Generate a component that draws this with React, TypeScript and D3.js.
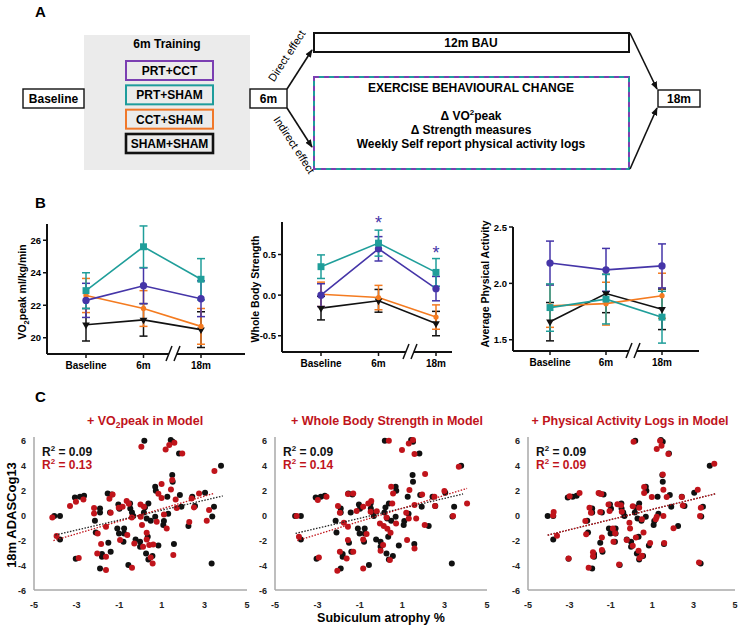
import React from 'react';
import * as d3 from 'd3';

const FONT = "'Liberation Sans', Arial, Helvetica, sans-serif";

// ---------------- Panel A (study design) ----------------
const trainingGroups = ['PRT+CCT', 'PRT+SHAM', 'CCT+SHAM', 'SHAM+SHAM'];
const trainingColors = ['#7b3fb2', '#1e9c9c', '#f0782a', '#111111'];

// ---------------- Panel B (group means ± SEM) ----------------
const timepoints = ['Baseline', '6m', '18m'];
const seriesNames = ['SHAM+SHAM', 'CCT+SHAM', 'PRT+CCT', 'PRT+SHAM'];
const seriesColors = ['#111111', '#f47b20', '#4535a8', '#1f9e9a'];

const vo2ShamSham = [20.8, 21.1, 20.5];
const vo2ShamShamErr = [1.0, 1.0, 1.1];
const vo2CctSham = [22.6, 21.8, 20.7];
const vo2CctShamErr = [1.05, 1.1, 1.1];
const vo2PrtCct = [22.3, 23.2, 22.4];
const vo2PrtCctErr = [1.05, 1.1, 1.1];
const vo2PrtSham = [22.9, 25.6, 23.6];
const vo2PrtShamErr = [1.1, 1.28, 1.27];

const strShamSham = [-0.16, -0.07, -0.35];
const strShamShamErr = [0.145, 0.14, 0.15];
const strCctSham = [0.01, -0.03, -0.27];
const strCctShamErr = [0.15, 0.15, 0.15];
const strPrtCct = [0.0, 0.57, 0.08];
const strPrtCctErr = [0.14, 0.15, 0.15];
const strPrtSham = [0.35, 0.64, 0.28];
const strPrtShamErr = [0.145, 0.16, 0.17];

const paShamSham = [1.66, 1.91, 1.77];
const paShamShamErr = [0.17, 0.17, 0.18];
const paCctSham = [1.80, 1.82, 1.89];
const paCctShamErr = [0.19, 0.19, 0.2];
const paPrtCct = [2.18, 2.12, 2.155];
const paPrtCctErr = [0.195, 0.19, 0.195];
const paPrtSham = [1.785, 1.86, 1.70];
const paPrtShamErr = [0.21, 0.22, 0.23];

const vo2Ticks = [20, 22, 24, 26];
const strTicks = [-0.5, 0.0, 0.5];
const paTicks = [1.5, 2.0, 2.5];

// ---------------- Panel C (scatter) ----------------
const scatterXTicks = [-5, -3, -1, 1, 3, 5];
const scatterYTicks = [-6, -4, -2, 0, 2, 4, 6];

// base model (black) points: [subiculum atrophy %, 18m ADASCog13]
const basePoints = [
  [-4.05, -0.08], [-3.78, -0.08], [-3.78, -1.95], [-3.08, 1.41], [-2.84, 1.47], [-2.65, 1.55],
  [-3.04, -3.49], [-2.14, -0.45], [-1.9, 0.53], [-1.9, 0.21], [-1.9, -4.27], [-1.81, -3.12],
  [-1.81, -3.33], [-1.54, 1.73], [-1.35, 1.65], [-1.51, -2.21], [-1.4, -2.93], [-1.04, 0.85],
  [-0.99, 0.51], [-1.43, 0.21], [-1.09, -1.07], [-1.01, -1.47], [-0.77, -1.07], [-0.77, -1.47],
  [-0.8, -2.13], [-0.57, -4.0], [-0.49, 0.93], [-0.48, 0.53], [-0.4, 0.21], [-0.34, -0.08],
  [-0.23, -1.95], [-0.02, -2.13], [-0.02, -2.53], [0.18, 5.95], [0.21, 0.61], [0.16, 0.21],
  [0.37, 0.93], [0.29, -0.27], [0.34, -1.73], [0.26, -3.07], [0.37, -3.55], [0.56, -3.28],
  [0.48, -0.45], [0.69, -0.13], [0.69, 2.27], [0.72, 1.95], [0.84, -2.43], [1.07, -0.8],
  [1.1, -0.48], [1.26, 1.47], [1.42, 6.0], [1.51, 5.87], [1.49, 3.2], [1.51, 2.67],
  [1.57, -2.32], [1.81, 4.93], [1.85, 1.6], [1.92, 0.67], [2.25, -0.88], [2.43, 1.47],
  [2.56, 0.72], [3.03, 1.79], [3.34, -3.87], [3.37, -0.11], [3.45, 0.67], [3.78, 3.95],
  [1.3, 0.1], [-2.1, -1.4],
];

// + VO2peak model (red)
const vo2Points = [
  [-4.14, -0.19], [-3.94, -1.68], [-3.31, 0.72], [-3.03, 1.07], [-2.9, -3.44], [-2.68, 1.25],
  [-2.18, 0.56], [-2.18, 0.13], [-2.01, -1.47], [-1.85, -2.32], [-2.03, -3.07], [-1.62, -3.33],
  [-1.62, -4.4], [-1.46, 1.31], [-1.31, 1.65], [-1.4, 0.19], [-1.62, -0.93], [-1.02, 0.59],
  [-0.84, 0.67], [-0.65, 1.12], [-0.96, -2.0], [-0.62, -1.6], [-0.41, -0.19], [-0.4, -4.21],
  [-0.29, -2.27], [0.0, 0.85], [0.01, -0.13], [0.07, -0.8], [0.12, -2.53], [0.04, 5.47],
  [0.16, 0.67], [0.29, -1.41], [0.29, -1.95], [0.41, -2.4], [0.48, -3.39], [0.57, -3.87],
  [0.6, -2.35], [0.76, -0.53], [0.84, 1.71], [0.99, 2.48], [0.99, 1.36], [1.1, 0.05],
  [1.18, 5.25], [1.23, -1.07], [1.35, 5.6], [1.43, 2.05], [1.49, 2.8], [1.59, 5.79],
  [1.65, 1.25], [1.7, 0.56], [1.54, -3.2], [1.96, 4.93], [2.29, -0.56], [2.4, 1.33],
  [2.51, 0.61], [2.75, 1.73], [3.11, -0.45], [3.22, 0.4], [3.47, 3.52], [-0.55, 0.9],
];

// + Whole body strength model (red)
const strPoints = [
  [-3.98, -0.08], [-3.87, -1.73], [-2.93, -3.39], [-2.98, 1.2], [-2.57, 1.47], [-2.03, 0.72],
  [-1.94, 0.19], [-1.94, -2.93], [-2.06, -4.45], [-1.62, -3.47], [-1.75, -0.61], [-1.56, 1.68],
  [-1.31, 1.73], [-1.56, -0.93], [-1.56, -2.0], [-1.31, -2.93], [-1.15, 0.32], [-0.84, 0.67],
  [-0.6, 0.93], [-0.46, 1.12], [-0.68, -1.52], [-0.84, -1.95], [-0.84, -4.27], [-0.49, 0.27],
  [-0.05, -0.67], [-0.02, -2.85], [0.13, -0.88], [0.1, -2.4], [0.26, -0.19], [0.37, 5.95],
  [0.42, -3.6], [0.45, -1.41], [0.53, 0.93], [0.48, 2.27], [0.57, 1.73], [0.71, -0.67],
  [1.19, 0.19], [1.23, -2.0], [1.31, -0.27], [0.99, 5.2], [1.31, 5.73], [1.34, 2.0],
  [1.51, 6.0], [1.58, 4.88], [1.58, 0.8], [1.58, -2.67], [1.66, -0.27], [1.94, 1.65],
  [2.08, 3.28], [2.06, -0.8], [2.52, 1.47], [2.55, 0.72], [2.99, 1.92], [3.4, -0.08],
  [3.67, 3.87], [4.06, 0.93], [0.3, -1.1], [-0.2, 0.3],
];

// + Physical activity logs model (red)
const paPoints = [
  [-3.79, -0.03], [-3.76, 0.24], [-3.6, -1.66], [-3.04, -3.48], [-2.99, 1.5], [-2.51, 1.77],
  [-2.23, -0.47], [-2.19, -1.53], [-2.07, -4.22], [-2.03, 0.58], [-1.96, 0.18], [-1.86, -3.3],
  [-1.86, -2.98], [-1.59, 1.77], [-1.46, 1.69], [-1.51, 0.24], [-1.43, -1.79], [-1.43, -2.8],
  [-1.11, 0.84], [-1.06, 0.32], [-0.9, -1.08], [-0.87, -2.14], [-0.79, -1.45], [-0.68, 0.87],
  [-0.6, -3.96], [-0.51, 0.79], [-0.47, 0.26], [-0.23, -2.0], [-0.07, -1.08], [-0.1, -0.61],
  [0.06, 0.71], [0.1, 5.86], [0.06, -2.45], [0.21, -1.79], [0.34, -2.85], [0.39, -3.43],
  [0.5, -3.25], [0.37, 0.58], [0.5, -0.34], [0.58, -1.4], [0.61, 2.24], [0.61, 1.77],
  [0.9, -2.24], [0.98, 1.45], [1.17, -0.34], [1.22, -0.13], [1.22, 5.28], [1.38, 5.94],
  [1.45, 5.54], [1.51, 3.25], [1.54, 2.03], [1.58, -2.24], [1.54, -0.08], [1.7, 1.45],
  [1.78, 4.88], [2.03, -1.06], [2.43, 1.45], [2.48, 0.77], [3.2, 2.03], [3.31, -0.08],
  [3.26, -3.8], [3.35, 0.58], [4.0, 4.1],
];

// fitted trend lines [[x0, y0], [x1, y1]]
const vo2BaseFit = [[-4.0, -1.6], [3.86, 1.52]];
const vo2ModelFit = [[-4.09, -2.05], [3.45, 1.73]];
const strBaseFit = [[-4.03, -1.47], [3.87, 1.68]];
const strModelFit = [[-3.95, -2.05], [4.06, 2.13]];
const paBaseFit = [[-4.05, -1.61], [4.04, 1.69]];
const paModelFit = [[-4.05, -1.61], [4.04, 1.69]];

const RED = '#c0141b';

function Arrow({ x1, y1, x2, y2 }: { x1: number; y1: number; x2: number; y2: number }) {
  return <line x1={x1} y1={y1} x2={x2} y2={y2} stroke="#111" strokeWidth={1.6} markerEnd="url(#arrowHead)" />;
}

function PanelA() {
  const boxY = d3.scalePoint<string>().domain(trainingGroups).range([61, 134]);
  const boxH = 19;
  const bold = { fontWeight: 'bold' as const, fontSize: 12 };
  return (
    <g>
      <text x={35} y={17} fontSize={15} fontWeight="bold">A</text>
      <rect x={84} y={35} width={166} height={135} fill="#ebebeb" />
      <text x={167} y={48} textAnchor="middle" {...bold}>6m Training</text>
      {trainingGroups.map((g, i) => (
        <g key={g}>
          <rect x={126} y={boxY(g)!} width={87} height={boxH} fill="none" stroke={trainingColors[i]} strokeWidth={i === 3 ? 2.6 : 2} />
          <text x={169.5} y={boxY(g)! + 14} textAnchor="middle" {...bold}>{g}</text>
        </g>
      ))}
      <rect x={23} y={89} width={61} height={19} fill="#fff" stroke="#111" strokeWidth={1.4} />
      <text x={53.5} y={103} textAnchor="middle" {...bold}>Baseline</text>
      <rect x={250} y={89} width={37} height={19} fill="#fff" stroke="#111" strokeWidth={1.4} />
      <text x={268.5} y={103} textAnchor="middle" {...bold}>6m</text>

      <Arrow x1={287} y1={89} x2={312} y2={50} />
      <Arrow x1={287} y1={108} x2={312} y2={147} />
      <text transform="translate(290,58) rotate(-57)" textAnchor="middle" fontSize={11}>Direct effect</text>
      <text transform="translate(291,147) rotate(57)" textAnchor="middle" fontSize={11}>Indirect effect</text>

      <rect x={314} y={33} width={315} height={19} fill="#fff" stroke="#111" strokeWidth={2} />
      <text x={471} y={47} textAnchor="middle" {...bold}>12m BAU</text>

      <rect x={314} y={77} width={315} height={92} fill="#fff" stroke="#1e9c9c" strokeWidth={2} />
      <rect x={314} y={77} width={315} height={92} fill="none" stroke="#7b3fb2" strokeWidth={2} strokeDasharray="5,5" />
      <text x={471} y={92} textAnchor="middle" {...bold}>EXERCISE BEHAVIOURAL CHANGE</text>
      <text x={471} y={120} textAnchor="middle" {...bold}>
        {'\u0394 VO'}<tspan fontSize={8} dy={-5}>2</tspan><tspan dy={5}>peak</tspan>
      </text>
      <text x={471} y={134} textAnchor="middle" {...bold}>{'\u0394 Strength measures'}</text>
      <text x={471} y={148} textAnchor="middle" {...bold}>Weekly Self report physical activity logs</text>

      <Arrow x1={630} y1={33} x2={657} y2={89} />
      <Arrow x1={630} y1={169} x2={657} y2={108} />
      <rect x={658} y={90} width={42} height={17} fill="#fff" stroke="#111" strokeWidth={1.4} />
      <text x={679} y={103} textAnchor="middle" {...bold}>18m</text>
    </g>
  );
}

type LineProps = {
  axisX0: number; axisX1: number; catX0: number; catX1: number; breakX: number;
  yDomain: [number, number]; yRange: [number, number]; ticks: number[]; fmt: (v: number) => string;
  means: number[][]; errs: number[][]; title: React.ReactNode; titleX: number; titleY: number;
  stars?: number[];
};

function LinePanel(p: LineProps) {
  const x = d3.scalePoint<string>().domain(timepoints).range([p.catX0, p.catX1]);
  const y = d3.scaleLinear().domain(p.yDomain).range(p.yRange);
  const base = p.yRange[0];
  const line = d3.line<number>().x((_, i) => x(timepoints[i])!).y((d) => y(d));
  const sym = [
    d3.symbol().type(d3.symbolTriangle).size(26)(),
    d3.symbol().type(d3.symbolCircle).size(22)(),
    d3.symbol().type(d3.symbolCircle).size(42)(),
    d3.symbol().type(d3.symbolSquare).size(48)(),
  ];
  return (
    <g>
      {p.means.map((m, si) => (
        <g key={si}>
          <path d={line(m)!} fill="none" stroke={seriesColors[si]} strokeWidth={1.6} />
          {m.map((v, i) => {
            const cx = x(timepoints[i])!;
            const e = p.errs[si][i];
            return (
              <g key={i} stroke={seriesColors[si]} strokeWidth={1.5}>
                <line x1={cx} x2={cx} y1={y(v - e)} y2={y(v + e)} />
                <line x1={cx - 4} x2={cx + 4} y1={y(v + e)} y2={y(v + e)} />
                <line x1={cx - 4} x2={cx + 4} y1={y(v - e)} y2={y(v - e)} />
              </g>
            );
          })}
        </g>
      ))}
      {p.means.map((m, si) => (
        <g key={'s' + si}>
          {m.map((v, i) => (
            <path key={i} d={sym[si]!} fill={seriesColors[si]}
              transform={`translate(${x(timepoints[i])},${y(v)})${si === 0 ? ' rotate(180)' : ''}`} />
          ))}
        </g>
      ))}
      {(p.stars || []).map((v, i) =>
        v == null ? null : (
          <text key={i} x={x(timepoints[i])} y={y(v) + 9} textAnchor="middle" fontSize={18} fill="#4535a8">*</text>
        )
      )}
      {/* axes */}
      <line x1={p.axisX0} x2={p.axisX0} y1={p.yRange[1]} y2={base} stroke="#111" strokeWidth={2} />
      <line x1={p.axisX0} x2={p.axisX1} y1={base} y2={base} stroke="#111" strokeWidth={2} />
      {p.ticks.map((t) => (
        <g key={t}>
          <line x1={p.axisX0 - 4} x2={p.axisX0} y1={y(t)} y2={y(t)} stroke="#111" strokeWidth={1.5} />
          <text x={p.axisX0 - 6} y={y(t) + 3.5} textAnchor="end" fontSize={9.5} fontWeight="bold">{p.fmt(t)}</text>
        </g>
      ))}
      {timepoints.map((t) => (
        <g key={t}>
          <line x1={x(t)} x2={x(t)} y1={base} y2={base + 4} stroke="#111" strokeWidth={1.5} />
          <text x={x(t)} y={base + 15} textAnchor="middle" fontSize={10} fontWeight="bold">{t}</text>
        </g>
      ))}
      <rect x={p.breakX - 4} y={base - 3} width={8} height={6} fill="#fff" />
      <line x1={p.breakX - 7} y1={base + 7} x2={p.breakX - 1} y2={base - 8} stroke="#111" strokeWidth={1.5} />
      <line x1={p.breakX + 1} y1={base + 7} x2={p.breakX + 7} y2={base - 8} stroke="#111" strokeWidth={1.5} />
      <text transform={`translate(${p.titleX},${p.titleY}) rotate(-90)`} textAnchor="middle" fontSize={10.5} fontWeight="bold">
        {p.title}
      </text>
    </g>
  );
}

function PanelB() {
  return (
    <g>
      <text x={35} y={208} fontSize={15} fontWeight="bold">B</text>
      <LinePanel axisX0={47} axisX1={245} catX0={86} catX1={201} breakX={173}
        yDomain={[19, 27]} yRange={[354, 224]} ticks={vo2Ticks} fmt={(v) => String(v)}
        means={[vo2ShamSham, vo2CctSham, vo2PrtCct, vo2PrtSham]}
        errs={[vo2ShamShamErr, vo2CctShamErr, vo2PrtCctErr, vo2PrtShamErr]}
        title={<>VO<tspan fontSize={7.5} dy={2.5}>2</tspan><tspan dy={-2.5}>peak ml/kg/min</tspan></>}
        titleX={26} titleY={292} />
      <LinePanel axisX0={282} axisX1={452} catX0={321} catX1={436} breakX={410}
        yDomain={[-0.7, 0.9]} yRange={[352, 222]} ticks={strTicks} fmt={(v) => v.toFixed(1)}
        means={[strShamSham, strCctSham, strPrtCct, strPrtSham]}
        errs={[strShamShamErr, strCctShamErr, strPrtCctErr, strPrtShamErr]}
        title="Whole Body Strength" titleX={259} titleY={289}
        stars={[null as any, 0.92, 0.55]} />
      <LinePanel axisX0={513} axisX1={699} catX0={550} catX1={662} breakX={633}
        yDomain={[1.4, 2.5]} yRange={[351, 227]} ticks={paTicks} fmt={(v) => v.toFixed(1)}
        means={[paShamSham, paCctSham, paPrtCct, paPrtSham]}
        errs={[paShamShamErr, paCctShamErr, paPrtCctErr, paPrtShamErr]}
        title="Average Physical Activity" titleX={489} titleY={284} />
    </g>
  );
}

type ScatterProps = {
  x0: number; x1: number; title: React.ReactNode; titleX: number;
  base: number[][]; model: number[][]; baseFit: number[][]; modelFit: number[][];
  r2Base: string; r2Model: string; yTitle?: boolean; xTitle?: boolean;
};

function Scatter(p: ScatterProps) {
  const x = d3.scaleLinear().domain([-5, 5]).range([p.x0, p.x1]);
  const y = d3.scaleLinear().domain([-6, 6]).range([590, 440]);
  const axisCol = '#a8a8a8';
  return (
    <g>
      <text x={p.titleX} y={425} textAnchor="middle" fontSize={12.5} fontWeight="bold" fill={RED}>{p.title}</text>
      <line x1={p.x0} x2={p.x0} y1={437} y2={590} stroke={axisCol} strokeWidth={1.5} />
      <line x1={p.x0} x2={p.x1} y1={590} y2={590} stroke={axisCol} strokeWidth={1.5} />
      {scatterYTicks.map((t) => (
        <text key={t} x={p.x0 - 8} y={y(t) + 3.5} textAnchor="end" fontSize={9} fontWeight="bold" fill="#222">{t}</text>
      ))}
      {scatterXTicks.map((t) => (
        <text key={t} x={x(t)} y={608} textAnchor="middle" fontSize={9} fontWeight="bold" fill="#222">{t}</text>
      ))}
      {p.base.map((d, i) => (
        <circle key={'b' + i} cx={x(d[0])} cy={y(d[1])} r={3} fill="#111" />
      ))}
      {p.model.map((d, i) => (
        <circle key={'m' + i} cx={x(d[0])} cy={y(d[1])} r={3} fill={RED} />
      ))}
      <line x1={x(p.baseFit[0][0])} y1={y(p.baseFit[0][1])} x2={x(p.baseFit[1][0])} y2={y(p.baseFit[1][1])}
        stroke="#222" strokeWidth={1.3} strokeDasharray="1.5,1.5" />
      <line x1={x(p.modelFit[0][0])} y1={y(p.modelFit[0][1])} x2={x(p.modelFit[1][0])} y2={y(p.modelFit[1][1])}
        stroke={RED} strokeWidth={1.3} strokeDasharray="1.5,1.5" />
      <text x={p.x0 + 8} y={456} fontSize={12} fontWeight="bold" fill="#111">
        R<tspan fontSize={8} dy={-5}>2</tspan><tspan dy={5}>{' = ' + p.r2Base}</tspan>
      </text>
      <text x={p.x0 + 8} y={469} fontSize={12} fontWeight="bold" fill={RED}>
        R<tspan fontSize={8} dy={-5}>2</tspan><tspan dy={5}>{' = ' + p.r2Model}</tspan>
      </text>
      {p.yTitle && (
        <text transform="translate(16,515) rotate(-90)" textAnchor="middle" fontSize={13} fontWeight="bold">18m ADASCog13</text>
      )}
      {p.xTitle && (
        <text x={(p.x0 + p.x1) / 2} y={622} textAnchor="middle" fontSize={12.5} fontWeight="bold">Subiculum atrophy %</text>
      )}
    </g>
  );
}

function PanelC() {
  return (
    <g>
      <text x={35} y={402} fontSize={15} fontWeight="bold">C</text>
      <Scatter x0={34} x1={247} titleX={145}
        title={<>+ VO<tspan fontSize={8.5} dy={3}>2</tspan><tspan dy={-3}>peak in Model</tspan></>}
        base={basePoints} model={vo2Points} baseFit={vo2BaseFit} modelFit={vo2ModelFit}
        r2Base="0.09" r2Model="0.13" yTitle />
      <Scatter x0={275} x1={487} titleX={387} title="+ Whole Body Strength in Model"
        base={basePoints} model={strPoints} baseFit={strBaseFit} modelFit={strModelFit}
        r2Base="0.09" r2Model="0.14" xTitle />
      <Scatter x0={528} x1={735} titleX={630} title="+ Physical Activity Logs in Model"
        base={basePoints} model={paPoints} baseFit={paBaseFit} modelFit={paModelFit}
        r2Base="0.09" r2Model="0.09" />
    </g>
  );
}

export default function App() {
  return (
    <svg width={740} height={626} viewBox="0 0 740 626"
      style={{ position: 'absolute', left: 0, top: 0, background: '#fff' }} fontFamily={FONT}>
      <defs>
        <marker id="arrowHead" viewBox="0 0 10 10" refX={9} refY={5} markerWidth={8} markerHeight={8}
          markerUnits="userSpaceOnUse" orient="auto">
          <path d="M0,1 L10,5 L0,9 z" fill="#111" />
        </marker>
      </defs>
      <rect x={0} y={0} width={740} height={626} fill="#fff" />
      <PanelA />
      <PanelB />
      <PanelC />
    </svg>
  );
}
